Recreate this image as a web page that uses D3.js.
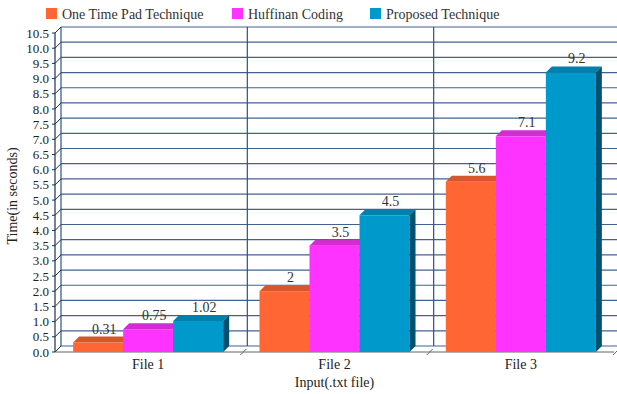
<!DOCTYPE html>
<html>
<head>
<meta charset="utf-8">
<script src="https://cdn.jsdelivr.net/npm/d3@7"></script>
<style>
  html, body { margin: 0; padding: 0; background: #fff; }
  svg text { font-family: "Liberation Serif", "DejaVu Serif", "Times New Roman", serif; }
</style>
</head>
<body>
<svg id="chart" width="617" height="394"></svg>
<script>
// Execution time per input file for each technique
const categories = ["File 1", "File 2", "File 3"];
const seriesNames = ["One Time Pad Technique", "Huffinan Coding", "Proposed Technique"];
const oneTimePad = [0.31, 2, 5.6];
const huffman = [0.75, 3.5, 7.1];
const proposed = [1.02, 4.5, 9.2];
const valueLabels = [["0.31", "2", "5.6"], ["0.75", "3.5", "7.1"], ["1.02", "4.5", "9.2"]];
const yTicks = d3.range(0, 10.51, 0.5);

const seriesValues = [oneTimePad, huffman, proposed];
const fronts = ["#FF6633", "#FF33FF", "#0099CC"];
const topFills = ["#D9552B", "#D22DD2", "#0080AB"];
const sideFills = ["#B84A25", "#B02AB0", "#00506F"];

const serif = "'Liberation Serif', 'DejaVu Serif', serif";
const svg = d3.select("#chart");
const plotLeft = 55, plotRight = 614, plotTop = 33, plotBottom = 352;
const dx = 6, dy = -6; // depth offset of the back wall

const x = d3.scaleBand().domain(categories).range([plotLeft, plotRight]);
const y = d3.scaleLinear().domain([0, 10.5]).range([plotBottom, plotTop]);
const xs = d3.scaleBand().domain(d3.range(3)).range([0, x.bandwidth()]).paddingOuter(0.363).paddingInner(0);

const gridColor = "#2E5282";

// Back wall grid lines
svg.append("g").selectAll("line").data(yTicks).join("line")
  .attr("x1", plotLeft + dx).attr("x2", 640)
  .attr("y1", d => y(d) + dy).attr("y2", d => y(d) + dy)
  .attr("stroke", gridColor).attr("stroke-width", 1.2).attr("opacity", 0.9);

// Back wall verticals at category boundaries
const bounds = categories.map(c => x(c));
svg.append("g").selectAll("line").data(bounds).join("line")
  .attr("x1", d => d + dx).attr("x2", d => d + dx)
  .attr("y1", y(10.5) + dy).attr("y2", y(0) + dy)
  .attr("stroke", gridColor).attr("stroke-width", 1.2);

// Side wall connectors at each tick
svg.append("g").selectAll("line").data(yTicks).join("line")
  .attr("x1", plotLeft).attr("x2", plotLeft + dx)
  .attr("y1", d => y(d)).attr("y2", d => y(d) + dy)
  .attr("stroke", "#1d2f4a").attr("stroke-width", 1);

// Front value axis
svg.append("line").attr("x1", plotLeft).attr("x2", plotLeft)
  .attr("y1", y(10.5)).attr("y2", y(0))
  .attr("stroke", "#1d2f4a").attr("stroke-width", 1.2);
svg.append("g").selectAll("line").data(yTicks).join("line")
  .attr("x1", plotLeft - 3).attr("x2", plotLeft)
  .attr("y1", d => y(d)).attr("y2", d => y(d))
  .attr("stroke", "#1d2f4a");

// Floor front edge and category ticks
svg.append("line").attr("x1", plotLeft).attr("x2", plotRight)
  .attr("y1", plotBottom).attr("y2", plotBottom)
  .attr("stroke", "#666").attr("stroke-width", 1.2);
svg.append("g").selectAll("line").data(categories.map(c => x(c) + x.bandwidth())).join("line")
  .attr("x1", d => d - 1).attr("x2", d => d + 5)
  .attr("y1", plotBottom + 3).attr("y2", plotBottom - 3)
  .attr("stroke", "#666");

// Tick labels
svg.append("g").selectAll("text").data(yTicks).join("text")
  .attr("x", plotLeft - 6).attr("y", d => y(d)).attr("dy", "0.35em")
  .attr("text-anchor", "end").attr("font-size", 13).attr("fill", "#222")
  .attr("font-family", serif)
  .text(d => d.toFixed(1));

// Bars
const bars = svg.append("g");
seriesValues.forEach((vals, s) => {
  vals.forEach((v, i) => {
    const x0 = x(categories[i]) + xs(s);
    const x1 = x0 + xs.bandwidth();
    const y0 = y(0), yt = y(v);
    const g = bars.append("g");
    g.append("rect").attr("x", x0).attr("y", yt).attr("width", x1 - x0).attr("height", y0 - yt)
      .attr("fill", fronts[s]);
    g.append("polygon")
      .attr("points", [[x0, yt], [x0 + dx, yt + dy], [x1 + dx, yt + dy], [x1, yt]].join(" "))
      .attr("fill", topFills[s]);
    g.append("polygon")
      .attr("points", [[x1, yt], [x1 + dx, yt + dy], [x1 + dx, y0 + dy], [x1, y0]].join(" "))
      .attr("fill", sideFills[s]);
  });
});

// Value labels
seriesValues.forEach((vals, s) => {
  vals.forEach((v, i) => {
    const cx = x(categories[i]) + xs(s) + xs.bandwidth() / 2 + dx;
    svg.append("text").attr("x", cx).attr("y", y(v) + dy - 3)
      .attr("text-anchor", "middle").attr("font-size", 14).attr("fill", "#333")
      .attr("font-family", serif)
      .text(valueLabels[s][i]);
  });
});

// Category labels
svg.append("g").selectAll("text").data(categories).join("text")
  .attr("x", d => x(d) + x.bandwidth() / 2).attr("y", 369)
  .attr("text-anchor", "middle").attr("font-size", 14).attr("fill", "#222")
  .attr("font-family", serif)
  .text(d => d);

// Axis titles
svg.append("text").attr("x", (plotLeft + plotRight) / 2).attr("y", 387)
  .attr("text-anchor", "middle").attr("font-size", 14).attr("fill", "#222")
  .attr("font-family", serif)
  .text("Input(.txt file)");
svg.append("text").attr("transform", "translate(17,196) rotate(-90)")
  .attr("text-anchor", "middle").attr("font-size", 14).attr("fill", "#222")
  .attr("font-family", serif)
  .text("Time(in seconds)");

// Legend
const legendX = [46, 232, 370];
const legend = svg.append("g");
seriesNames.forEach((name, s) => {
  legend.append("rect").attr("x", legendX[s]).attr("y", 8).attr("width", 11).attr("height", 11)
    .attr("fill", fronts[s]);
  legend.append("text").attr("x", legendX[s] + 16).attr("y", 19)
    .attr("font-size", 14).attr("fill", "#333").attr("font-family", serif).text(name);
});
</script>
</body>
</html>
